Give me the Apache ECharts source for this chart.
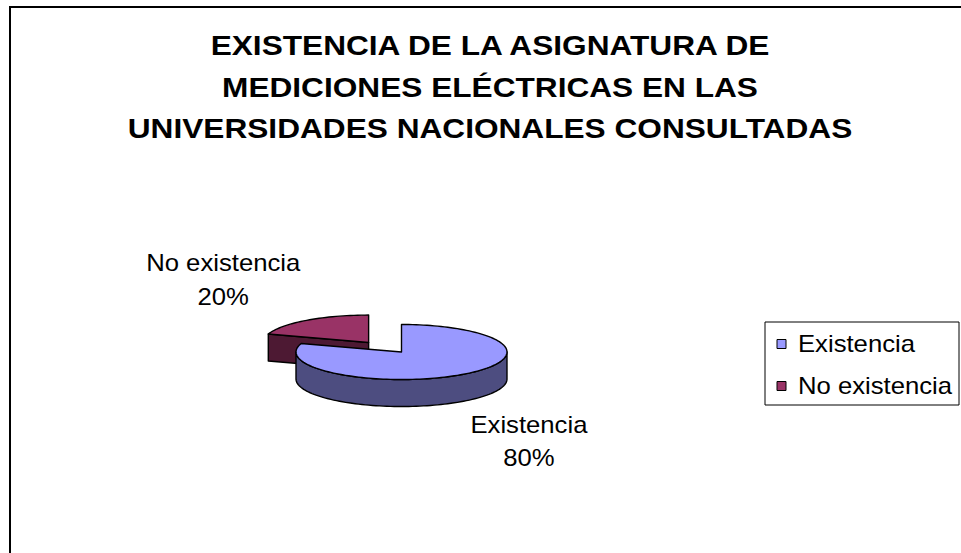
<!DOCTYPE html>
<html>
<head>
<meta charset="utf-8">
<title>Existencia de la asignatura de Mediciones Eléctricas</title>
<script src="https://cdn.jsdelivr.net/npm/echarts@6/dist/echarts.min.js"></script>
<style>
  html, body { margin: 0; padding: 0; background: #fff; }
  #chart { width: 961px; height: 553px; }
</style>
</head>
<body>
<div id="chart"></div>
<script>
// ---- data ----
const titleLines = [
  'EXISTENCIA DE LA ASIGNATURA DE',
  'MEDICIONES ELÉCTRICAS EN LAS',
  'UNIVERSIDADES NACIONALES CONSULTADAS'
];
const categories = ['Existencia', 'No existencia'];
const values = [80, 20];

// ---- styling ----
const topColors = ['#9999FF', '#993366'];
const sideColors = ['#4D4D80', '#4D1933'];
const explodeRatio = [0, 0.53];
const FONT = '"Liberation Sans", Arial, sans-serif';
const TEXT_STRETCH = 1.07;

// geometry of the tilted (3D-looking) pie
const pie = { cx: 401.5, cy: 352, rx: 105.5, ry: 27.5, depth: 27 };
const labelShiftX = -9;

const total = values.reduce((a, b) => a + b, 0);
const starts = [];
values.reduce((acc, v, i) => { starts[i] = acc; return acc + v; }, 0);

function ellipsePt(cx, cy, th, dy) {
  return [cx + pie.rx * Math.sin(th), cy - pie.ry * Math.cos(th) + (dy || 0)];
}
function arcPts(cx, cy, a, b, dy) {
  const n = Math.max(2, Math.ceil((b - a) / (Math.PI / 90)));
  const pts = [];
  for (let k = 0; k <= n; k++) pts.push(ellipsePt(cx, cy, a + (b - a) * k / n, dy));
  return pts;
}

function renderSlice(params, api) {
  const i = params.dataIndex;
  const v = api.value(0);
  const a = starts[i] / total * Math.PI * 2;          // clockwise from 12 o'clock
  const b = (starts[i] + v) / total * Math.PI * 2;
  const mid = (a + b) / 2;
  const e = explodeRatio[i];
  const cx = pie.cx + e * pie.rx * Math.sin(mid);
  const cy = pie.cy - e * pie.ry * 0.8 * Math.cos(mid);
  const base = i === 0 ? 20 : 0;                       // front slice over the exploded one
  const line = { stroke: '#000', lineWidth: 1.4, lineJoin: 'round' };
  const children = [];

  // radial cut faces facing the viewer
  const radial = (th) => {
    const p = ellipsePt(cx, cy, th);
    return [[cx, cy], p, [p[0], p[1] + pie.depth], [cx, cy + pie.depth]];
  };
  if (Math.sin(a) < -1e-6) {
    children.push({ type: 'polygon', z2: base + 1, shape: { points: radial(a) },
      style: Object.assign({ fill: sideColors[i] }, line) });
  }
  if (Math.sin(b) > 1e-6) {
    children.push({ type: 'polygon', z2: base + 1, shape: { points: radial(b) },
      style: Object.assign({ fill: sideColors[i] }, line) });
  }
  // outer curved wall on the front half
  const s = Math.max(a, Math.PI / 2), t = Math.min(b, Math.PI * 1.5);
  if (t > s) {
    const topArc = arcPts(cx, cy, s, t, 0);
    const botArc = arcPts(cx, cy, s, t, pie.depth).reverse();
    children.push({ type: 'polygon', z2: base + 2, shape: { points: topArc.concat(botArc) },
      style: Object.assign({ fill: sideColors[i] }, line) });
  }
  // top face
  children.push({ type: 'polygon', z2: base + 3,
    shape: { points: [[cx, cy]].concat(arcPts(cx, cy, a, b, 0)) },
    style: Object.assign({ fill: topColors[i] }, line) });

  // data label
  const lx = cx + 2.2 * pie.rx * Math.sin(mid) + labelShiftX;
  const ly = cy - 2.8 * pie.ry * Math.cos(mid) + (Math.cos(mid) < 0 ? pie.depth : 0);
  children.push({ type: 'text', x: lx, y: ly, scaleX: TEXT_STRETCH, z2: 50,
    style: { text: categories[i] + '\n' + Math.round(v / total * 100) + '%',
      fill: '#000', font: '24px ' + FONT, align: 'center', verticalAlign: 'middle',
      lineHeight: 34 } });

  return { type: 'group', children };
}

// title, frame and legend
const graphics = [
  { type: 'rect', shape: { x: 10, y: 7, width: 1000, height: 600 },
    style: { fill: 'none', stroke: '#000', lineWidth: 2 }, silent: true }
];
titleLines.forEach((txt, k) => {
  graphics.push({ type: 'text', x: 490, y: 45.5 + k * 41.5, scaleX: 1.13,
    style: { text: txt, fill: '#000', font: 'bold 28px ' + FONT,
      align: 'center', verticalAlign: 'middle', textAlign: 'center', textVerticalAlign: 'middle' } });
});
const legendBox = { x: 765, y: 322, width: 194, height: 83 };
graphics.push({ type: 'rect', shape: legendBox,
  style: { fill: '#fff', stroke: '#000', lineWidth: 1 } });
categories.forEach((name, k) => {
  const yc = 344 + k * 42;
  graphics.push({ type: 'rect', shape: { x: 777, y: yc - 4.5, width: 9, height: 9 },
    style: { fill: topColors[k], stroke: '#000', lineWidth: 1 } });
  graphics.push({ type: 'text', x: 798, y: yc, scaleX: TEXT_STRETCH,
    style: { text: name, fill: '#000', font: '24px ' + FONT,
      align: 'left', verticalAlign: 'middle', textAlign: 'left', textVerticalAlign: 'middle' } });
});

const chart = echarts.init(document.getElementById('chart'), null, { renderer: 'svg' });
chart.setOption({
  backgroundColor: '#fff',
  animation: false,
  graphic: graphics,
  series: [{
    type: 'custom',
    name: 'Existencia de la asignatura',
    coordinateSystem: 'none',
    renderItem: renderSlice,
    data: values.map((v, i) => ({ name: categories[i], value: v }))
  }]
});
</script>
</body>
</html>
